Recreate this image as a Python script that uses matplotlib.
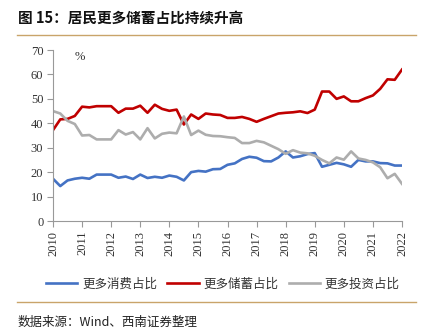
import matplotlib
matplotlib.use("Agg")
import matplotlib.pyplot as plt
from matplotlib.lines import Line2D

plt.rcParams['font.family'] = ['Noto Sans CJK SC', 'DejaVu Sans']

years = [str(y) for y in range(2010, 2023)]
consume = [17.3, 14.3, 16.6, 17.3, 17.7, 17.3, 19.0, 19.0, 19.0, 17.7, 18.2, 17.2,
           19.0, 17.6, 18.1, 17.7, 18.6, 18.1, 16.6, 20.0, 20.5, 20.2, 21.2, 21.3,
           23.0, 23.6, 25.4, 26.3, 25.9, 24.5, 24.4, 26.0, 28.5, 26.0, 26.5, 27.4,
           27.8, 22.2, 23.0, 23.8, 23.2, 22.2, 25.0, 24.4, 24.4, 23.7, 23.6, 22.7, 22.7]
saving = [37.2, 41.6, 41.8, 43.0, 46.8, 46.5, 47.0, 47.0, 47.0, 44.3, 46.0, 46.0,
          47.2, 44.3, 47.6, 45.9, 45.1, 45.6, 39.5, 43.6, 41.8, 44.0, 43.6, 43.4,
          42.2, 42.2, 42.6, 41.8, 40.6, 41.8, 42.9, 44.0, 44.3, 44.5, 44.9, 44.2,
          45.6, 53.0, 53.0, 50.0, 51.0, 49.0, 49.0, 50.3, 51.4, 54.1, 58.0, 57.8, 62.0]
invest = [45.0, 44.0, 41.0, 39.7, 35.0, 35.2, 33.4, 33.4, 33.4, 37.2, 35.4, 36.4,
          33.4, 38.0, 33.8, 35.7, 36.2, 35.9, 42.8, 35.2, 37.0, 35.3, 34.8, 34.7,
          34.3, 34.0, 31.9, 31.9, 32.8, 32.2, 30.8, 29.4, 27.5, 29.0, 28.0, 27.7,
          26.7, 25.0, 23.6, 26.0, 25.1, 28.5, 25.6, 25.0, 24.0, 22.0, 17.5, 19.3, 15.2]
labels = ['更多消费占比', '更多储蓄占比', '更多投资占比']
colors = ['#4472C4', '#C00000', '#ADADAD']

fig = plt.figure(figsize=(4.3, 3.35), dpi=100)
ax = fig.add_axes([53/430, 1-221/335, (402-53)/430, (221-50)/335])

x = list(range(len(consume)))
for series, lab, c in zip([consume, saving, invest], labels, colors):
    ax.plot(x, series, color=c, lw=1.9, label=lab, solid_joinstyle='round')

ax.set_xlim(0, len(consume) - 1)
ax.set_ylim(0, 70)
ax.set_yticks(range(0, 71, 10))
ax.set_xticks(range(0, len(consume), 4))
ax.set_xticklabels(years, rotation=90, family='Liberation Serif', fontsize=9, color='#333333')
for t in ax.get_yticklabels():
    t.set_family('Liberation Serif')
    t.set_fontsize(9)
    t.set_color('#333333')
for s in ['top', 'right']:
    ax.spines[s].set_visible(False)
for s in ['left', 'bottom']:
    ax.spines[s].set_color('#999999')
    ax.spines[s].set_linewidth(0.8)
ax.tick_params(axis='both', length=4, width=0.8, color='#999999', pad=3)

fig.text(75/430, 1-57/335, '%', family='Liberation Serif', fontsize=9, color='#333333',
         ha='left', va='center')

fig.text(18/430, 1-18/335, '图 15：居民更多储蓄占比持续升高', fontsize=10.5, fontweight='bold',
         ha='left', va='center', color='#111111')
fig.add_artist(Line2D([17/430, 416/430], [1-35/335, 1-35/335], color='#C9A46A', lw=1.0))
fig.add_artist(Line2D([17/430, 416/430], [1-302/335, 1-302/335], color='#C9A46A', lw=1.0))

fig.legend(loc='center', bbox_to_anchor=(223/430, 1-284/335), ncol=3, frameon=False,
           prop={'family': ['Noto Sans CJK SC', 'DejaVu Sans'], 'size': 9},
           handlelength=2.5, handletextpad=0.4, columnspacing=0.8, labelcolor='#333333')

fig.text(18/430, 1-322/335, '数据来源：Wind、西南证券整理', fontsize=9, style='italic',
         ha='left', va='center', color='#222222')

fig.savefig('out.png', dpi=100)
